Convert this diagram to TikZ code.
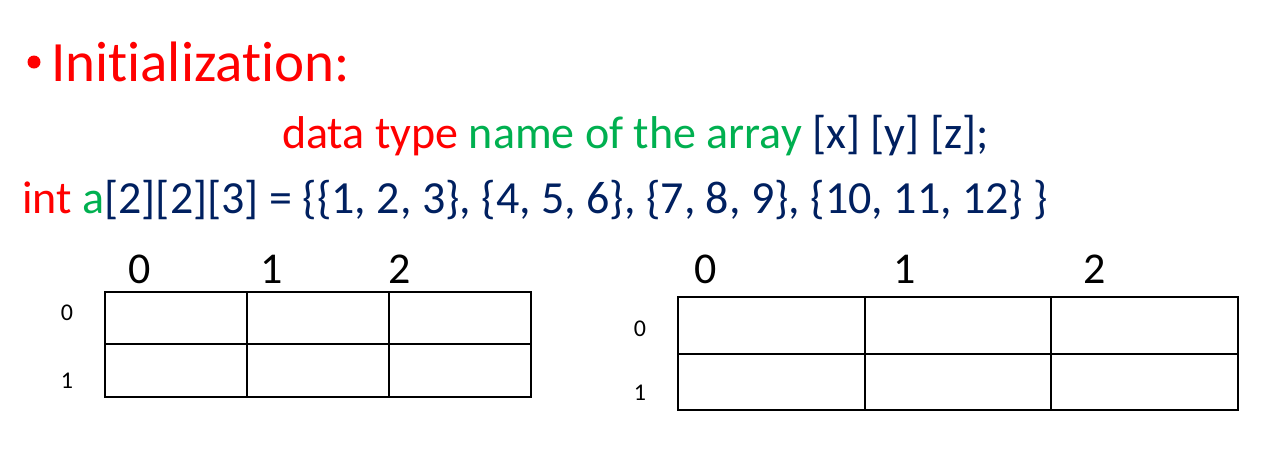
\documentclass[tikz,border=0pt]{standalone}
\usepackage{fontspec}
\setmainfont{Carlito}[Ligatures=NoCommon]
\definecolor{cred}{HTML}{FF0000}
\definecolor{cgreen}{HTML}{00B050}
\definecolor{cblue}{HTML}{002060}
\begin{document}
\begin{tikzpicture}[x=1pt,y=-1pt,
  cell/.style={draw=black,line width=2pt},
  collab/.style={font=\fontsize{44}{44}\selectfont,anchor=base},
  rowlab/.style={font=\fontsize{24}{24}\selectfont,anchor=base}]
\useasboundingbox (0,0) rectangle (1272,451);
\fill[white] (0,0) rectangle (1272,451);
% title
\fill[cred] (34,62) circle (6.5);
\node[anchor=base west,inner sep=0pt,text=cred,font=\fontsize{57}{57}\selectfont] (title) at (51,81) {Initialization:};
% syntax line
\node[anchor=base west,inner sep=0pt,font=\fontsize{46}{46}\selectfont] (syntax) at (282,148)
  {\textcolor{cred}{data type} \textcolor{cgreen}{name of the array} \textcolor{cblue}{[x] [y] [z];}};
% example line
\node[anchor=base west,inner sep=0pt,font=\fontsize{46}{46}\selectfont] (example) at (22,213)
  {\textcolor{cred}{int} \textcolor{cgreen}{a}\textcolor{cblue}{[2][2][3] = \{\{1, 2, 3\}, \{4, 5, 6\}, \{7, 8, 9\}, \{10, 11, 12\} \}}};
% left grid
\draw[cell] (105,292) rectangle (531,397);
\draw[cell] (105,344) -- (531,344);
\draw[cell] (247,292) -- (247,397);
\draw[cell] (389,292) -- (389,397);
\node[collab] (lc0) at (140,283) {0};
\node[collab] (lc1) at (272,283) {1};
\node[collab] (lc2) at (400,283) {2};
\node[rowlab] (lr0) at (67,320) {0};
\node[rowlab] (lr1) at (67,388) {1};
% right grid
\draw[cell] (678,297) rectangle (1238,410);
\draw[cell] (678,354) -- (1238,354);
\draw[cell] (865,297) -- (865,410);
\draw[cell] (1051,297) -- (1051,410);
\node[collab] (rc0) at (706,283) {0};
\node[collab] (rc1) at (905,283) {1};
\node[collab] (rc2) at (1095,283) {2};
\node[rowlab] (rr0) at (640,336) {0};
\node[rowlab] (rr1) at (640,400) {1};
\end{tikzpicture}
\end{document}
